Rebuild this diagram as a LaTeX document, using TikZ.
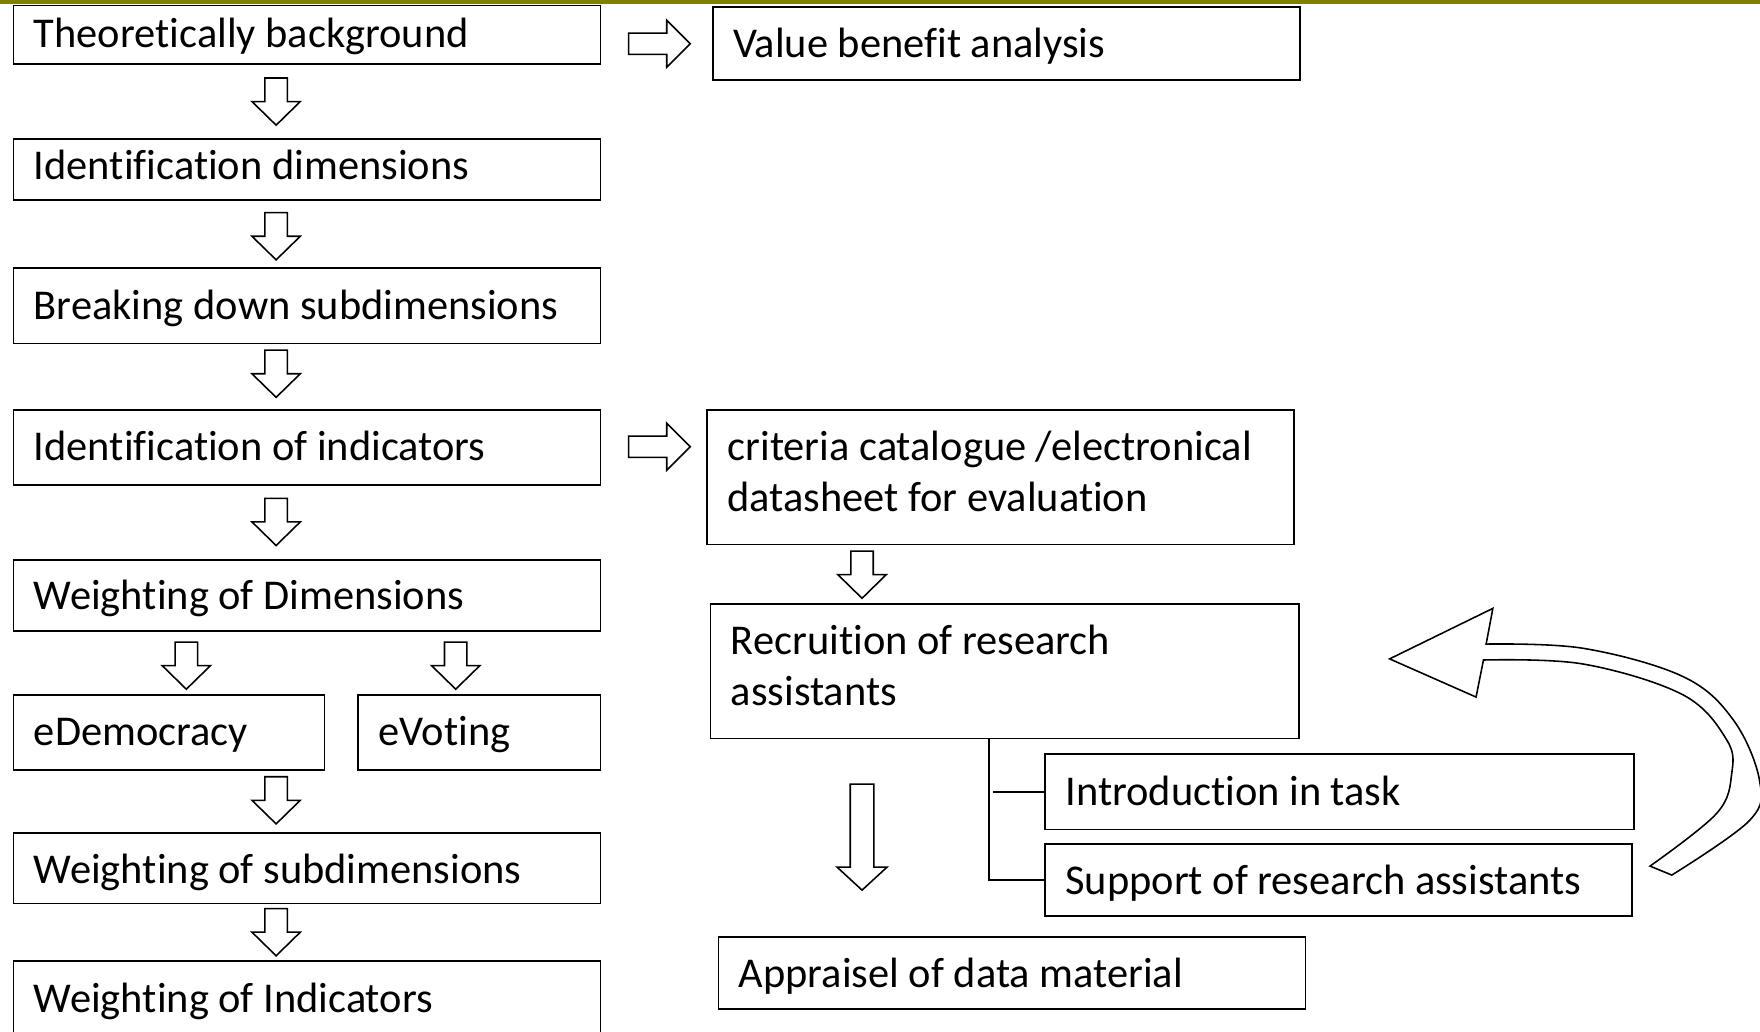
\documentclass[tikz,border=0pt]{standalone}
\usepackage{fontspec}
\setmainfont{Carlito}[Ligatures=CommonOff]
\definecolor{olivebar}{HTML}{7F7F00}
\tikzset{
  box/.style={draw, line width=1.5pt, fill=white, inner sep=0pt},
  txt/.style={inner sep=0pt, anchor=north west, align=left, font=\fontsize{37.8}{45.5}\selectfont},
  blk/.style={draw, line width=1.4pt, fill=white, line join=miter},
  downarr/.pic={\path[blk] (-10,0) -- (10,0) -- (10,21) -- (21.5,21) -- (0,42) -- (-21.5,21) -- (-10,21) -- cycle;},
  rightarr/.pic={\path[blk] (0,-9.5) -- (34,-9.5) -- (34,-21) -- (55,0) -- (34,21) -- (34,9.5) -- (0,9.5) -- cycle;},
  longarr/.pic={\path[blk] (-10.5,0) -- (10.5,0) -- (10.5,74) -- (22.3,74) -- (0,94.5) -- (-22.3,74) -- (-10.5,74) -- cycle;},
  conn/.style={line width=1.5pt}
}
\newcommand{\bx}[7]{%
  \pgfmathsetmacro{\bxw}{#4-#2}\pgfmathsetmacro{\bxh}{#5-#3}%
  \node[box, minimum width=\bxw pt, minimum height=\bxh pt] (#1) at ({(#2+#4)/2},{(#3+#5)/2}) {};
  \node[txt] (#1t) at ({#2+18},{#6-35}) {\rule{0pt}{35pt}#7};}
\begin{document}
\begin{tikzpicture}[x=1pt,y=-1pt]
\useasboundingbox (0,0) rectangle (1568,919);
\fill[olivebar] (0,0) rectangle (1568,3.5);
% left column
\bx{tb}{12}{5}{535}{57}{42}{Theoretically background}
\bx{idd}{12}{124}{535}{178}{160}{Identification dimensions}
\bx{bd}{12}{239}{535}{306}{284}{Breaking down subdimensions}
\bx{ii}{12}{365}{535}{432}{410}{Identification of indicators}
\bx{wd}{12}{499}{535}{562}{543}{Weighting of Dimensions}
\bx{edem}{12}{619}{289}{686}{664}{eDemocracy}
\bx{evot}{319}{619}{535}{686}{664}{eVoting}
\bx{ws}{12}{742}{535}{805}{787}{Weighting of subdimensions}
\bx{wi}{12}{856}{535}{935}{902}{Weighting of Indicators}
% right column
\bx{vba}{635}{6}{1158}{71}{51}{Value benefit analysis}
\bx{cc}{630}{365}{1153}{485}{410}{criteria catalogue /electronical\\datasheet for evaluation}
\bx{rra}{633}{538}{1157}{658}{583}{Recruition of research\\assistants}
\bx{intro}{931}{672}{1456}{739}{717}{Introduction in task}
\bx{sup}{931}{752}{1454}{816}{797}{Support of research assistants}
\bx{app}{640}{835}{1163}{899}{880}{Appraisel of data material}
% connectors
\coordinate (xl) at (881,0);
\draw[conn] (rra.south -| xl) |- (sup.west);
\draw[conn] (xl |- intro.west) ++(4,0) -- (intro.west);
% block arrows
\pic at (246,69.5) {downarr};
\pic at (246,189.5) {downarr};
\pic at (246,312) {downarr};
\pic at (246,444) {downarr};
\pic at (166,572) {downarr};
\pic at (406,572) {downarr};
\pic at (246,692) {downarr};
\pic at (246,809.5) {downarr};
\pic at (768,491) {downarr};
\pic at (768,698.5) {longarr};
\pic at (560,39) {rightarr};
\pic at (560,398) {rightarr};
% curved block arrow
\path[blk] plot[smooth, tension=0.6] coordinates {(1489.4,779.6) (1559,730.6) (1567.5,695) (1544.3,641.5) (1499.7,602.9) (1410.6,577.6) (1324,573.8)}
  -- (1330,542) -- (1238,587) -- (1315,621) -- (1321.6,588)
  -- plot[smooth, tension=0.6] coordinates {(1321.6,588) (1410.6,591.6) (1499.7,619.2) (1538.4,659.3) (1542.8,689) (1529.4,724.6) (1470,771.6)}
  -- cycle;
\end{tikzpicture}
\end{document}
